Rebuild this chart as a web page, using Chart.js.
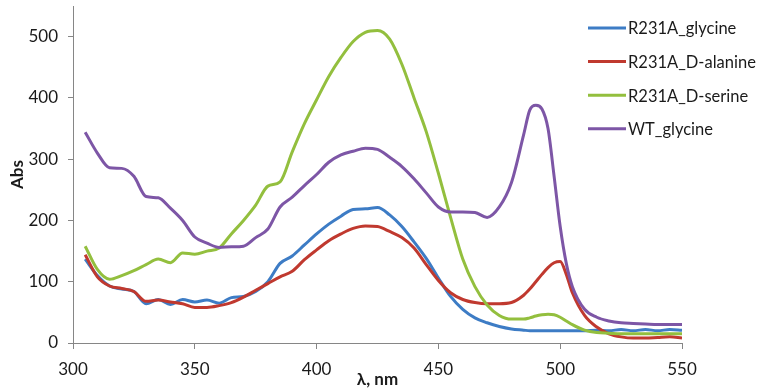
<!DOCTYPE html>
<html>
<head>
<meta charset="utf-8">
<script src="https://cdn.jsdelivr.net/npm/chart.js@4/dist/chart.umd.min.js"></script>
<style>
  html, body { margin: 0; padding: 0; background: #ffffff; }
  #wrap { position: relative; width: 765px; height: 392px; }
</style>
</head>
<body>
<div id="wrap"><canvas id="c"></canvas></div>
<script>
// Wavelengths (nm)
const wavelengths = [305,310,315,320,325,330,335,340,345,350,355,360,365,370,375,380,385,390,395,400,
  405,410,415,420,425,430,435,440,445,450,455,460,465,470,475,480,485,487.5,490,492.5,495,497.5,500,502.5,505,
  510,515,520,525,530,535,540,545,550];

const seriesNames = ["R231A_glycine", "R231A_D-alanine", "R231A_D-serine", "WT_glycine"];

const glycineR231A = [137,110,93,88,84,64,71,63,71,67,70,65,74,76,84,100,130,142,160,178,
  194,207,218,219,221,209,190,165,138,106,76,55,41,33,27,23,21,20,20,20,20,20,20,20,20,
  20,21,20,22,20,22,20,22,21];

const alanineR231A = [144,108,93,89,84,68,70,67,64,58,58,61,66,75,86,97,108,117,136,152,
  167,178,187,191,190,182,172,155,128,102,82,71,66,64,64,66,78,88,100,112,123,131,133,112,82,
  45,26,15,10,8,8,9,10,8];

const serineR231A = [158,120,104,110,118,128,137,131,147,145,150,155,178,200,225,256,263,312,358,397,
  435,466,492,507,510,496,455,400,345,277,205,137,92,62,45,39,39,41,44,46,47,46,42,36,30,
  21,17,16,15,15,15,15,15,15];

const glycineWT = [344,310,286,285,272,239,237,220,200,173,163,156,157,158,172,186,222,238,257,275,
  295,307,313,318,316,303,288,268,245,222,214,214,213,205,222,262,340,380,388,382,350,272,190,130,92,
  55,42,36,33,32,31,30,30,30];

const xTicks = [300,350,400,450,500,550];
const yTicks = [0,100,200,300,400,500];

const colors = ["#3d7cc5", "#c0392f", "#93bf3e", "#7d56a6"];
const allSeries = [glycineR231A, alanineR231A, serineR231A, glycineWT];

const FONT = "Lato, 'Open Sans', sans-serif";

const datasets = allSeries.map((vals, i) => ({
  label: seriesNames[i],
  data: wavelengths.map((w, j) => ({ x: w, y: vals[j] })),
  borderColor: colors[i],
  backgroundColor: colors[i],
  borderWidth: 3,
  pointRadius: 0,
  fill: false,
  cubicInterpolationMode: 'monotone',
  order: allSeries.length - 1 - i
}));

const legendPlugin = {
  id: 'customLegend',
  afterDraw(chart) {
    const ctx = chart.ctx;
    ctx.save();
    ctx.font = "16.5px " + FONT;
    ctx.textBaseline = 'middle';
    ctx.textAlign = 'left';
    chart.data.datasets.forEach((ds, i) => {
      const y = 28 + i * 33.6;
      ctx.strokeStyle = ds.borderColor;
      ctx.lineWidth = 3;
      ctx.beginPath();
      ctx.moveTo(588, y);
      ctx.lineTo(626, y);
      ctx.stroke();
      ctx.fillStyle = '#1a1a1a';
      ctx.fillText(ds.label, 628, y + 1);
    });
    ctx.restore();
  }
};

new Chart(document.getElementById('c'), {
  type: 'line',
  data: { datasets },
  options: {
    responsive: true,
    maintainAspectRatio: false,
    animation: false,
    devicePixelRatio: 1,
    layout: { padding: { left: 0, right: 83, top: 6, bottom: 0 } },
    plugins: { legend: { display: false }, tooltip: { enabled: false } },
    scales: {
      x: {
        type: 'linear',
        min: xTicks[0],
        max: xTicks[xTicks.length - 1],
        afterBuildTicks: (s) => { s.ticks = xTicks.map(v => ({ value: v })); },
        afterFit: (s) => { s.height = 49; s.paddingLeft = 0; s.paddingRight = 0; },
        grid: { display: true, drawOnChartArea: false, drawTicks: true, tickLength: 6, color: '#868686' },
        border: { display: true, color: '#868686', width: 1 },
        ticks: { color: '#1a1a1a', font: { family: FONT, size: 17 }, padding: 10, maxRotation: 0 },
        title: { display: true, text: 'λ, nm', color: '#1a1a1a', font: { family: FONT, size: 17, weight: 'bold' }, padding: { top: 0, bottom: 2 } }
      },
      y: {
        type: 'linear',
        min: 0,
        max: 550,
        afterBuildTicks: (s) => { s.ticks = yTicks.map(v => ({ value: v })); },
        afterFit: (s) => { s.width = 73; s.paddingTop = 0; s.paddingBottom = 0; },
        grid: { display: true, drawOnChartArea: false, drawTicks: true, tickLength: 5, color: '#868686' },
        border: { display: true, color: '#868686', width: 1 },
        ticks: { color: '#1a1a1a', font: { family: FONT, size: 17 }, padding: 10 },
        title: { display: true, text: 'Abs', color: '#1a1a1a', font: { family: FONT, size: 17, weight: 'bold' }, padding: { top: 7, bottom: 0 } }
      }
    }
  },
  plugins: [legendPlugin]
});
</script>
</body>
</html>
